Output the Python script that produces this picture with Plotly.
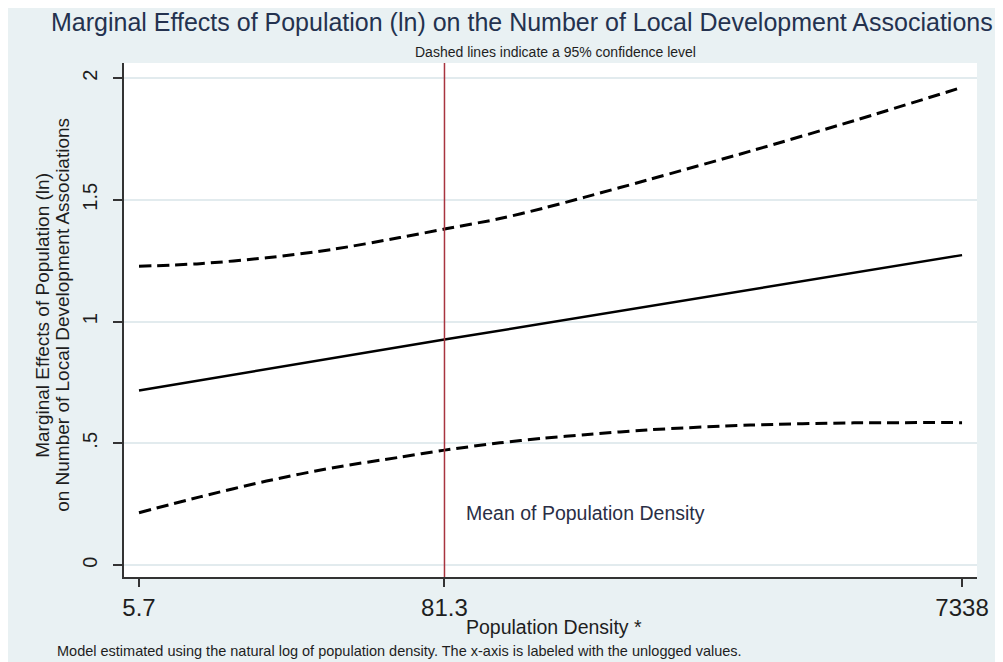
import numpy as np
import plotly.graph_objects as go

# ---- data ----
ln_density = [1.7405, 2.27, 2.85, 3.43, 4.01, 4.398, 4.88, 5.26, 5.62, 6.16, 7.06, 7.96, 8.9009]
upper_ci = [1.227, 1.238, 1.262, 1.297, 1.345, 1.380, 1.423, 1.466, 1.511, 1.581, 1.700, 1.825, 1.962]
lower_ci = [0.215, 0.280, 0.345, 0.400, 0.443, 0.472, 0.502, 0.521, 0.535, 0.555, 0.575, 0.584, 0.585]

me_x = [1.7405, 4.398, 8.9009]
me_y = [0.717, 0.926, 1.273]

tick_labels = ["5.7", "81.3", "7338"]
tick_values = [5.7, 81.3, 7338]
mean_density = 81.3
y_ticks = [0, 0.5, 1, 1.5, 2]
y_tick_text = ["0", ".5", "1", "1.5", "2"]

FONT = "Liberation Sans, Arial, sans-serif"
NAVY = "#24324f"
TXT = "#1e1e1e"

fig = go.Figure()
fig.add_trace(go.Scatter(x=ln_density, y=upper_ci, mode="lines",
                         line=dict(color="black", width=3, dash="12px,6px", shape="spline", smoothing=0.8)))
fig.add_trace(go.Scatter(x=ln_density, y=lower_ci, mode="lines",
                         line=dict(color="black", width=3, dash="12px,6px", shape="spline", smoothing=0.8)))
fig.add_trace(go.Scatter(x=me_x, y=me_y, mode="lines",
                         line=dict(color="black", width=2.5)))

fig.add_shape(type="line", xref="x", yref="paper", x0=np.log(mean_density), x1=np.log(mean_density),
              y0=0, y1=1, line=dict(color="#a8343f", width=1.5), layer="above")

fig.update_layout(
    width=1003, height=662,
    margin=dict(l=116, r=34, t=55, b=93),
    paper_bgcolor="#e9f1f3",
    plot_bgcolor="white",
    showlegend=False,
    font=dict(family=FONT, color=TXT),
)
fig.update_xaxes(
    range=[1.610, 9.031],
    tickvals=list(np.log(tick_values)), ticktext=tick_labels,
    tickfont=dict(size=24, color=TXT, family=FONT),
    ticks="outside", ticklen=8, tickwidth=1.5, tickcolor="#333",
    showline=True, linecolor="#333", linewidth=1.5,
    showgrid=False, zeroline=False,
)
fig.update_yaxes(
    range=[-0.049, 2.062],
    tickvals=y_ticks, ticktext=y_tick_text, tickangle=-90,
    tickfont=dict(size=20, color=TXT, family=FONT),
    ticks="outside", ticklen=9, tickwidth=1.5, tickcolor="#333",
    ticklabelstandoff=8,
    showline=True, linecolor="#333", linewidth=1.5,
    showgrid=True, gridcolor="#e2ebee", gridwidth=1.5, zeroline=False,
)

ann = [
    dict(text="Marginal Effects of Population (ln) on the Number of Local Development Associations",
         x=0.4666, y=1.0798, font=dict(size=25, color=NAVY, family=FONT)),
    dict(text="Dashed lines indicate a 95% confidence level",
         x=0.5053, y=1.0214, font=dict(size=14, color=TXT, family=FONT)),
    dict(text="Population Density *", x=0.504, y=-0.0973,
         font=dict(size=19.5, color=TXT, family=FONT)),
    dict(text="Model estimated using the natural log of population density. The x-axis is labeled with the unlogged values.",
         x=-0.0809, y=-0.144, xanchor="left", font=dict(size=14.5, color=TXT, family=FONT)),
    dict(text="Marginal Effects of Population (ln)",
         x=-0.0950, y=0.51, textangle=-90, font=dict(size=19, color=TXT, family=FONT)),
    dict(text="on Number of Local Development Associations",
         x=-0.0715, y=0.51, textangle=-90, font=dict(size=19, color=TXT, family=FONT)),
]
for a in ann:
    a.setdefault("xanchor", "center")
    fig.add_annotation(xref="paper", yref="paper", yanchor="middle", showarrow=False, **a)

fig.add_annotation(text="Mean of Population Density", xref="x", yref="y",
                   x=np.log(mean_density), y=0.214, xanchor="left", yanchor="middle",
                   xshift=20, showarrow=False, font=dict(size=19.5, color="#2a2e45", family=FONT))

fig.write_html("out.html")
